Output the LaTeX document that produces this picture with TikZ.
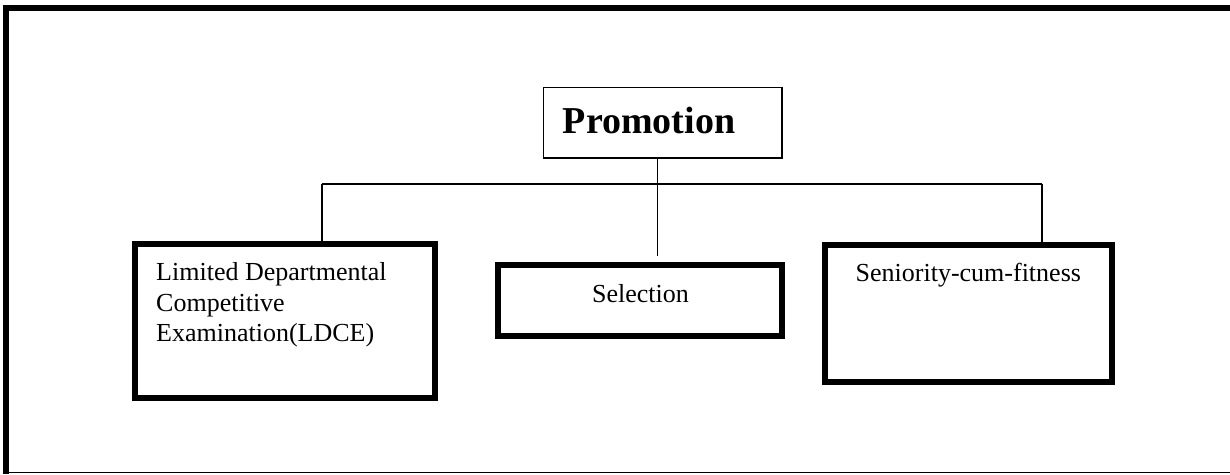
\documentclass[tikz,border=0pt]{standalone}
\usepackage{fontspec}
\setmainfont{Liberation Serif}
\begin{document}
\begin{tikzpicture}[x=1pt,y=-1pt,
  thickbox/.style={draw, line width=6pt, inner sep=0pt, rectangle},
  thinbox/.style={draw, line width=1.5pt, inner sep=0pt, rectangle},
  conn/.style={line width=1.5pt},
  lbl/.style={inner sep=0pt, font=\fontsize{26}{30.5}\selectfont},
  title/.style={inner sep=0pt, font=\fontsize{38}{44}\selectfont\bfseries},
]
\useasboundingbox (0,0) rectangle (1230,474);
% page frame (cropped)
\draw[line width=6pt] (5.7,474) -- (5.7,7.85) -- (1230,7.85);
\draw[line width=1pt] (5.7,472.8) -- (1230,472.8);

% boxes
\node[thinbox, minimum width=238.5pt, minimum height=70.5pt] (promo) at (662.7,122.7) {};
\node[thickbox, minimum width=300.6pt, minimum height=154.3pt] (ldce) at (285,320.85) {};
\node[thickbox, minimum width=284pt, minimum height=71.3pt] (sel) at (640.3,300.65) {};
\node[thickbox, minimum width=287.3pt, minimum height=137pt] (sen) at (968.65,313.8) {};

% texts
\node[title, anchor=base west] (promot) at (562.7,133.3) {Promotion};
\node[lbl, anchor=base west, align=left] (ldcet) at (156,341.7) {Limited Departmental\\Competitive\\Examination(LDCE)};
\node[lbl, anchor=base] (selt) at (640.5,302.7) {Selection};
\node[lbl, anchor=base] (sent) at (968.3,281.7) {Seniority-cum-fitness};

% connectors
\coordinate (jL) at (322,184);
\coordinate (jR) at (1042,184);
\coordinate (stemEnd) at (657.7,256);
\draw[conn] (jL) -- (jR);
\draw[conn] (jL) -- (jL |- ldce.north);
\draw[conn] (jR) -- (jR |- sen.north);
\draw[conn] (stemEnd |- promo.south) -- (stemEnd);
\end{tikzpicture}
\end{document}
